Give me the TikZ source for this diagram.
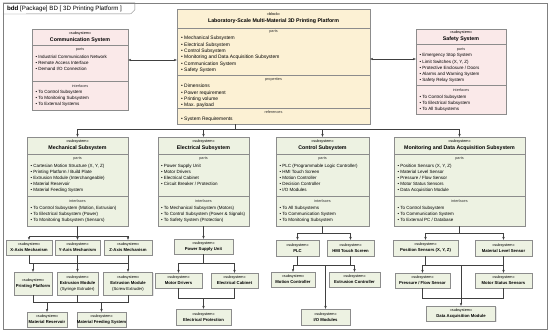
\documentclass[tikz,border=0pt]{standalone}
\usepackage{fontspec}
\setmainfont{Liberation Sans}
\usetikzlibrary{arrows.meta,positioning,fit,shadows}
\definecolor{boxedge}{RGB}{140,140,140}
\definecolor{blkfill}{RGB}{252,241,212}
\definecolor{sysfill}{RGB}{250,233,233}
\definecolor{subfill}{RGB}{237,242,226}
\newcommand{\stsub}{{\fontsize{5.4}{6}\selectfont\mdseries «subsystem»}}
\newcommand{\stblk}{{\fontsize{5.4}{6}\selectfont\mdseries «block»}}
\newcommand{\bul}{\textbullet~}
\tikzset{
  frm/.style     ={draw=black!50, line width=0.6pt},
  hdr/.style     ={font=\fontsize{8.8}{10}\selectfont, inner sep=0pt},
  blkbox/.style  ={draw=boxedge, fill=blkfill, line width=0.5pt, inner sep=0pt,
                   drop shadow={opacity=0.2, shadow xshift=0.5mm,
                   shadow yshift=-0.5mm}},
  sysbox/.style  ={blkbox, fill=sysfill},
  subbox/.style  ={blkbox, fill=subfill},
  leaf/.style    ={blkbox, fill=subfill, align=center,
                   font=\fontsize{6}{8.5}\selectfont\bfseries},
  sepln/.style   ={draw=boxedge, line width=0.4pt},
  ttl/.style     ={font=\fontsize{7.5}{9.5}\selectfont\bfseries, align=center,
                   inner sep=0pt},
  comp/.style    ={font=\fontsize{5.4}{6}\selectfont, text=black!80,
                   inner sep=0pt},
  bigitems/.style={font=\fontsize{7}{9.1}\selectfont, align=left,
                   anchor=north west, inner sep=0pt},
  items/.style   ={font=\fontsize{6.4}{8.7}\selectfont, align=left,
                   anchor=north west, inner sep=0pt},
  ln/.style      ={line width=0.5pt, draw=black!75},
  arr/.style     ={ln, -{Stealth[length=1.5mm, width=1.2mm]}},
  dbl/.style     ={ln, {Stealth[length=1.5mm, width=1.2mm]}-{Stealth[length=1.5mm, width=1.2mm]}},
}

\begin{document}
\begin{tikzpicture}[x=0.5mm, y=-0.5mm]
  \useasboundingbox (0,0) rectangle (550,334);
  % ---- frame and header tab
  \node[frm, inner sep=0pt, fit={(3,3) (547,329)}] (frame) {};
  \draw[frm] (frame.north west) -- ++(132,0) -- ++(0,7) -- ++(-4,4)
    -- (frame.west |- 0,14);
  \node[hdr, anchor=west] (hdrT) at (7,8.5)
    {\textbf{bdd} [Package] BD [ 3D Printing Platform ]};
  % ---- top block
  \node[blkbox, fit={(177,9) (370,124)}] (main) {};
  \draw[sepln] (main.west |- 0,28)  -- (main.east |- 0,28);
  \draw[sepln] (main.west |- 0,75)  -- (main.east |- 0,75);
  \draw[sepln] (main.west |- 0,108) -- (main.east |- 0,108);
  \node[ttl] (mainT) at (273.5,18.5)
    {\stblk\\Laboratory-Scale Multi-Material 3D Printing Platform};
  \node[comp] (mainP) at (273.5,32) {parts};
  \node[bigitems] (mainPL) at (181,36)
    {\bul Mechanical Subsystem\\\bul Electrical Subsystem\\
     \bul Control Subsystem\\\bul Monitoring and Data Acquisition Subsystem\\
     \bul Communication System\\\bul Safety System};
  \node[comp] (mainR) at (273.5,80) {properties};
  \node[bigitems] (mainRL) at (181,84)
    {\bul Dimensions\\\bul Power requirement\\\bul Printing volume\\
     \bul Max. payload};
  \node[comp] (mainF) at (273.5,112.5) {references};
  \node[bigitems] (mainFL) at (181,117) {\bul System Requirements};
  % ---- communication system
  \node[sysbox, fit={(32,29) (128,110)}] (comm) {};
  \draw[sepln] (comm.west |- 0,45) -- (comm.east |- 0,45);
  \draw[sepln] (comm.west |- 0,81) -- (comm.east |- 0,81);
  \node[ttl] (commT) at (80,37) {\stsub\\Communication System};
  \node[comp] (commP) at (80,50) {parts};
  \node[items] (commPL) at (35.5,55.3)
    {\bul Industrial Communication Network\\\bul Remote Access Interface\\
     \bul Demand I/O Connection};
  \node[comp] (commI) at (80,86) {interfaces};
  \node[items] (commIL) at (35.5,90.3)
    {\bul To Control Subsystem\\\bul To Monitoring Subsystem\\
     \bul To External Systems};
  % ---- safety system
  \node[sysbox, fit={(416,29) (506,114)}] (safe) {};
  \draw[sepln] (safe.west |- 0,44) -- (safe.east |- 0,44);
  \draw[sepln] (safe.west |- 0,85) -- (safe.east |- 0,85);
  \node[ttl] (safeT) at (461,36.5) {\stsub\\Safety System};
  \node[comp] (safeP) at (461,49.3) {parts};
  \node[items] (safePL) at (419.5,53.7)
    {\bul Emergency Stop System\\\bul Limit Switches (X, Y, Z)\\
     \bul Protective Enclosure / Doors\\\bul Alarms and Warning System\\
     \bul Safety Relay System};
  \node[comp] (safeI) at (461,90.3) {interfaces};
  \node[items] (safeIL) at (419.5,94.7)
    {\bul To Control Subsystem\\\bul To Electrical Subsystem\\
     \bul To All Subsystems};
  % ---- mechanical subsystem
  \node[subbox, fit={(27,137) (128,226)}] (mech) {};
  \draw[sepln] (mech.west |- 0,154) -- (mech.east |- 0,154);
  \draw[sepln] (mech.west |- 0,196) -- (mech.east |- 0,196);
  \node[ttl] (mechT) at (77.5,145.5) {\stsub\\Mechanical Subsystem};
  \node[comp] (mechP) at (77.5,159) {parts};
  \node[items] (mechPL) at (30.5,163.7)
    {\bul Cartesian Motion Structure (X, Y, Z)\\
     \bul Printing Platform / Build Plate\\
     \bul Extrusion Module (Interchangeable)\\\bul Material Reservoir\\
     \bul Material Feeding System};
  \node[comp] (mechI) at (77.5,201) {interfaces};
  \node[items] (mechIL) at (30.5,206.3)
    {\bul To Control Subsystem (Motion, Extrusion)\\
     \bul To Electrical Subsystem (Power)\\
     \bul To Monitoring Subsystem (Sensors)};
  % ---- electrical subsystem
  \node[subbox, fit={(158,137) (249,226)}] (elec) {};
  \draw[sepln] (elec.west |- 0,154) -- (elec.east |- 0,154);
  \draw[sepln] (elec.west |- 0,196) -- (elec.east |- 0,196);
  \node[ttl] (elecT) at (203.5,145.5) {\stsub\\Electrical Subsystem};
  \node[comp] (elecP) at (203.5,159) {parts};
  \node[items] (elecPL) at (161,163.7)
    {\bul Power Supply Unit\\\bul Motor Drivers\\\bul Electrical Cabinet\\
     \bul Circuit Breaker / Protection};
  \node[comp] (elecI) at (203.5,201) {interfaces};
  \node[items] (elecIL) at (161,206.3)
    {\bul To Mechanical Subsystem (Motors)\\
     \bul To Control Subsystem (Power \& Signals)\\
     \bul To Safety System (Protection)};
  % ---- control subsystem
  \node[subbox, fit={(276,137) (369,226)}] (ctrl) {};
  \draw[sepln] (ctrl.west |- 0,154) -- (ctrl.east |- 0,154);
  \draw[sepln] (ctrl.west |- 0,196) -- (ctrl.east |- 0,196);
  \node[ttl] (ctrlT) at (322.5,145.5) {\stsub\\Control Subsystem};
  \node[comp] (ctrlP) at (322.5,159) {parts};
  \node[items] (ctrlPL) at (279.5,163.7)
    {\bul PLC (Programmable Logic Controller)\\\bul HMI Touch Screen\\
     \bul Motion Controller\\\bul Decision Controller\\\bul I/O Modules};
  \node[comp] (ctrlI) at (322.5,201) {interfaces};
  \node[items] (ctrlIL) at (279.5,206.3)
    {\bul To All Subsystems\\\bul To Communication System\\
     \bul To Monitoring Subsystem};
  % ---- monitoring and data acquisition
  \node[subbox, fit={(394,137) (525,226)}] (mon) {};
  \draw[sepln] (mon.west |- 0,154) -- (mon.east |- 0,154);
  \draw[sepln] (mon.west |- 0,196) -- (mon.east |- 0,196);
  \node[ttl] (monT) at (459.5,145.5)
    {\stsub\\Monitoring and Data Acquisition Subsystem};
  \node[comp] (monP) at (459.5,159) {parts};
  \node[items] (monPL) at (397.5,163.7)
    {\bul Position Sensors (X, Y, Z)\\\bul Material Level Sensor\\
     \bul Pressure / Flow Sensor\\\bul Motor Status Sensors\\
     \bul Data Acquisition Module};
  \node[comp] (monI) at (459.5,201) {interfaces};
  \node[items] (monIL) at (397.5,206.3)
    {\bul To Control Subsystem\\\bul To Communication System\\
     \bul To External PC / Database};
  % ---- links to the top block
  \draw[dbl] (comm.east |- 0,60) -- (main.west |- 0,60);
  \draw[dbl] (main.east |- 0,59) -- (safe.west |- 0,59);
  \coordinate (tb) at (235,129);
  \draw[ln] (main.south -| tb) -- (tb);
  \draw[arr] (tb) -| (mech);
  \draw[arr] (tb) -| (elec);
  \draw[arr] (tb) -| (ctrl);
  \draw[arr] (tb) -| (mon);
  % ---- mechanical parts
  \node[leaf, minimum width=23mm, minimum height=7.5mm] (xax) at (29,247.5)
    {\stsub\\X-Axis Mechanism};
  \node[leaf, minimum width=22.5mm, minimum height=7.5mm] (yax) at (77.5,247.5)
    {\stsub\\Y-Axis Mechanism};
  \node[leaf, minimum width=24mm, minimum height=7.5mm] (zax) at (128,247.5)
    {\stsub\\Z-Axis Mechanism};
  \node[leaf, minimum width=19mm, minimum height=11.5mm] (pplat) at (33,283.5)
    {\stsub\\Printing Platform};
  \node[leaf, minimum width=20.5mm, minimum height=11.5mm] (exsyr) at (77.5,283.5)
    {\stsub\\Extrusion Module\\{\mdseries(Syringe Extruder)}};
  \node[leaf, minimum width=24.5mm, minimum height=11.5mm] (exscr) at (128,283.5)
    {\stsub\\Extrusion Module\\{\mdseries(Screw Extruder)}};
  \node[leaf, minimum width=20mm, minimum height=7.5mm] (mres) at (47,319.5)
    {\stsub\\Material Reservoir};
  \node[leaf, minimum width=21.5mm, minimum height=7.5mm] (mfeed) at (101.5,319.5)
    {\stsub\\Material Feeding System};
  \coordinate (mb1) at (77.5,236);
  \coordinate (mb2) at (77.5,263);
  \coordinate (mb3) at (77.5,302);
  \draw[ln] (mech) -- (mb1);
  \draw[arr] (mb1) -| (xax);
  \draw[arr] (mb1) -- (yax);
  \draw[arr] (mb1) -| (zax);
  \draw[ln] (xax) |- (mb2);
  \draw[ln] (yax) -- (mb2);
  \draw[ln] (zax) |- (mb2);
  \draw[arr] (mb2) -| (pplat);
  \draw[arr] (mb2) -- (exsyr);
  \draw[arr] (mb2) -| (exscr);
  \draw[ln] (pplat) |- (mb3);
  \draw[ln] (exsyr) -- (mb3);
  \draw[ln] (exscr) |- (mb3);
  \draw[arr] (mb3) -| (mres);
  \draw[arr] (mb3) -| (mfeed);
  % ---- electrical parts
  \node[leaf, minimum width=29.5mm, minimum height=7.5mm] (psu) at (203.5,246.5)
    {\stsub\\Power Supply Unit};
  \node[leaf, minimum width=23.5mm, minimum height=7.5mm] (mdrv) at (178.5,280.5)
    {\stsub\\Motor Drivers};
  \node[leaf, minimum width=23.5mm, minimum height=7.5mm] (ecab) at (234.5,280.5)
    {\stsub\\Electrical Cabinet};
  \node[leaf, minimum width=27.5mm, minimum height=8mm] (eprot) at (203.5,317)
    {\stsub\\Electrical Protection};
  \coordinate (eb1) at (203.5,263);
  \coordinate (eb2) at (203.5,298);
  \draw[arr] (elec) -- (psu);
  \draw[ln] (psu) -- (eb1);
  \draw[arr] (eb1) -| (mdrv);
  \draw[arr] (eb1) -| (ecab);
  \draw[ln] (mdrv) |- (eb2);
  \draw[ln] (ecab) |- (eb2);
  \draw[arr] (eb2) -- (eprot);
  % ---- control parts
  \node[leaf, minimum width=21.5mm, minimum height=8mm] (plc) at (297.5,248)
    {\stsub\\PLC};
  \node[leaf, minimum width=23.5mm, minimum height=8mm] (hmi) at (350.5,248)
    {\stsub\\HMI Touch Screen};
  \node[leaf, minimum width=22mm, minimum height=7.5mm] (motc) at (293,279.5)
    {\stsub\\Motion Controller};
  \node[leaf, minimum width=25.5mm, minimum height=7.5mm] (extc) at (354.5,279.5)
    {\stsub\\Extrusion Controller};
  \node[leaf, minimum width=24.5mm, minimum height=8mm] (iomod) at (325.5,317)
    {\stsub\\I/O Modules};
  \coordinate (cb1) at (322.5,233);
  \coordinate (cb2) at (325.5,265);
  \draw[ln] (ctrl) -- (cb1);
  \draw[arr] (cb1) -| (plc);
  \draw[arr] (cb1) -| (hmi);
  \draw[ln] (plc) |- (cb2);
  \draw[ln] (hmi) |- (cb2);
  \draw[arr] (cb2) -| (motc);
  \draw[arr] (cb2) -| (extc);
  \draw[arr] (cb2) -- (iomod);
  % ---- monitoring parts
  \node[leaf, minimum width=32.5mm, minimum height=8mm] (pos) at (425.5,248)
    {\stsub\\Position Sensors (X, Y, Z)};
  \node[leaf, minimum width=28.5mm, minimum height=8mm] (lvl) at (503.5,248)
    {\stsub\\Material Level Sensor};
  \node[leaf, minimum width=27.5mm, minimum height=7.5mm] (pres) at (422.5,280.5)
    {\stsub\\Pressure / Flow Sensor};
  \node[leaf, minimum width=28.5mm, minimum height=7.5mm] (mots) at (503.5,280.5)
    {\stsub\\Motor Status Sensors};
  \node[leaf, minimum width=34.5mm, minimum height=7.5mm] (daq) at (461,313.5)
    {\stsub\\Data Acquisition Module};
  \coordinate (nb1) at (459.5,233);
  \coordinate (nb2) at (461,265);
  \coordinate (nb3) at (461,298);
  \draw[ln] (mon) -- (nb1);
  \draw[arr] (nb1) -| (pos);
  \draw[arr] (nb1) -| (lvl);
  \draw[ln] (pos) |- (nb2);
  \draw[ln] (lvl) |- (nb2);
  \draw[arr] (nb2) -| (pres);
  \draw[arr] (nb2) -| (mots);
  \draw[ln] (pres) |- (nb3);
  \draw[ln] (mots) |- (nb3);
  \draw[arr] (nb2) -- (daq);
\end{tikzpicture}
\end{document}
